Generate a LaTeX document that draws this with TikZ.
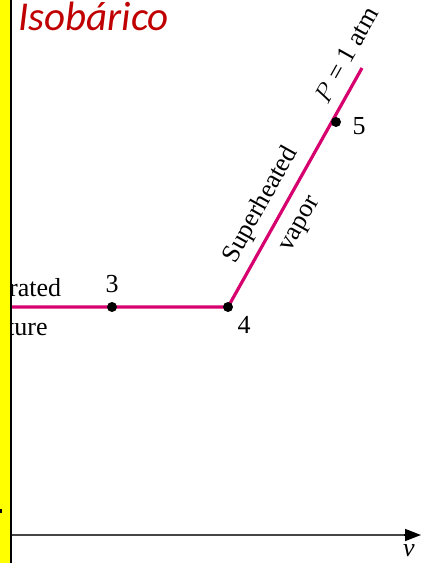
\documentclass[tikz,border=0pt]{standalone}
\usepackage{fontspec}
\setmainfont{Liberation Serif}
\newfontfamily\titlefont{Carlito}
\usetikzlibrary{arrows.meta}
\definecolor{curve}{RGB}{214,0,110}
\definecolor{titlered}{RGB}{192,0,0}
\definecolor{band}{RGB}{255,255,0}
\definecolor{axisgray}{RGB}{70,70,70}
\begin{document}
\begin{tikzpicture}[x=1pt,y=1pt,
  lbl/.style={font=\fontsize{26}{26}\selectfont, inner sep=0pt},
  pt/.style={circle, fill=black, inner sep=0pt, minimum size=10pt},
  iso/.style={curve, line width=3.2pt}]
\useasboundingbox (0,0) rectangle (423,-563);
\fill[white] (0,0) rectangle (423,-563);
% clipped labels
\node[lbl, anchor=base west] (sat) at (9,-296) {rated};
\node[lbl, anchor=base west] (mix) at (7,-335) {ture};
% band
\fill[band] (0,0) rectangle (10,-563);
\fill[black] (10,0) rectangle (12,-563);
\fill[black] (0,-509) rectangle (2,-513);
% title
\node[anchor=base west, inner sep=0pt, text=titlered, font=\titlefont\itshape\fontsize{41}{41}\selectfont] (title) at (18,-30) {Isobárico};
% axis
\coordinate (ax0) at (12,-535);
\coordinate (ax1) at (421,-535);
\draw[axisgray, line width=1.6pt] (ax0) -- (405,-535);
\draw[black, line width=1.6pt, -{Triangle[length=16pt,width=12pt]}] (404,-535) -- (ax1);
\node[lbl, font=\itshape\fontsize{26}{26}\selectfont] (v) at (409,-551) {v};
% isobar
\coordinate (a) at (12,-307);
\coordinate (top) at (362,-68);
\draw[iso] (a) -- (228,-307) -- (top);
\node[pt] (p3) at (112,-307) {};
\node[pt] (p4) at (228,-307) {};
\node[pt] (p5) at (336,-122) {};
\node[lbl] (l3) at (112,-284) {3};
\node[lbl] (l4) at (244,-325) {4};
\node[lbl] (l5) at (359,-126) {5};
\node[lbl, rotate=60.7] (sh) at (261,-205) {Superheated};
\node[lbl, rotate=60.7] (vap) at (302,-225) {vapor};
\node[lbl, rotate=60.7] (patm) at (346,-55) {$P$ = 1 atm};
\end{tikzpicture}
\end{document}
